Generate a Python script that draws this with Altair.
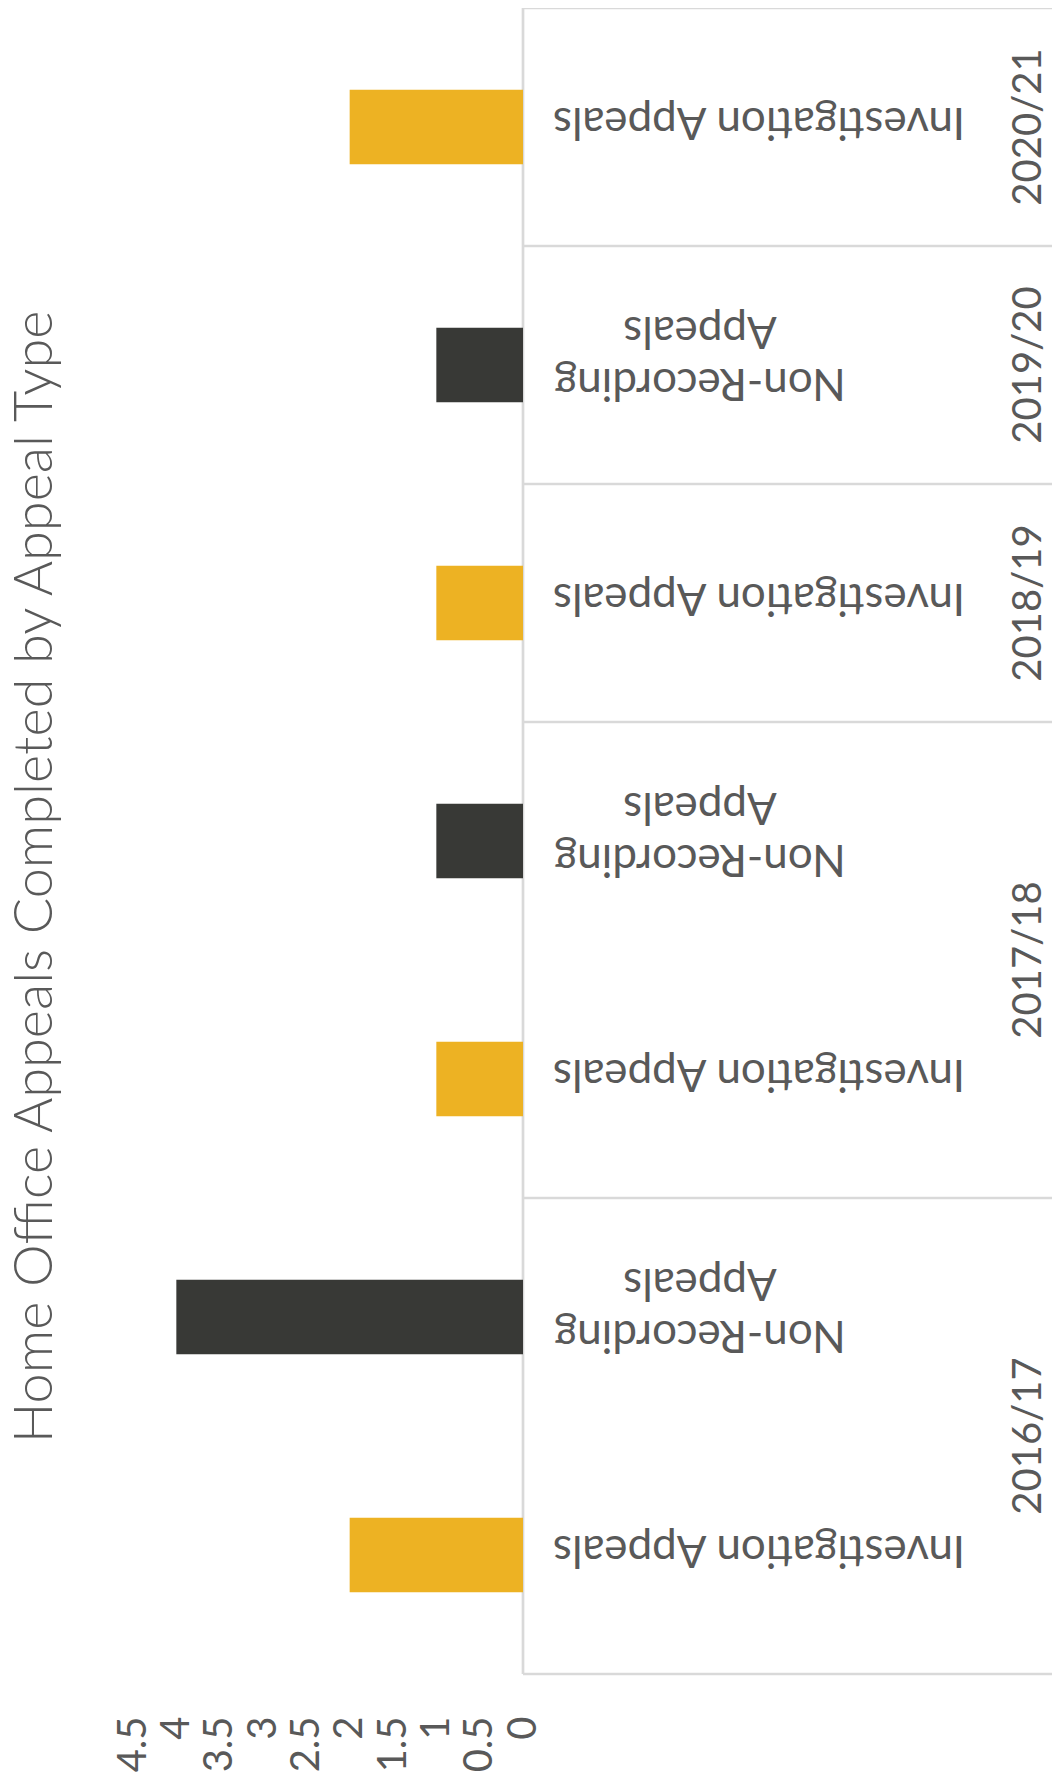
import altair as alt
import pandas as pd

# ---- data (bottom to top as read in the picture) ----
years = ["2016/17", "2016/17", "2017/18", "2017/18", "2018/19", "2019/20", "2020/21"]
types = ["Investigation Appeals", "Non-Recording Appeals",
         "Investigation Appeals", "Non-Recording Appeals",
         "Investigation Appeals", "Non-Recording Appeals",
         "Investigation Appeals"]
values = [2, 4, 1, 1, 1, 1, 2]
value_ticks = [0, 0.5, 1, 1.5, 2, 2.5, 3, 3.5, 4, 4.5]
title_text = "Home Office Appeals Completed by Appeal Type"
type_names = ["Investigation Appeals", "Non-Recording Appeals"]
type_colors = ["#EDB223", "#383936"]
type_labels = ["Investigation Appeals", "Non-Recording\nAppeals"]

TEXT = "#595959"
LINE = "#D9D9D9"
FONT = "Lato"

df = pd.DataFrame({"year": years, "type": types, "value": values})
df["cat"] = df["year"] + " | " + df["type"]
df["label"] = df["type"].map(dict(zip(type_names, type_labels)))
cat_order = list(df["cat"][::-1])  # top to bottom

# group boundaries
tops = df.groupby("year", sort=False)["cat"].last().tolist()
bottom = [df["cat"].iloc[0]]
yr_single, yr_double = [], []
for y, g in df.groupby("year", sort=False):
    if len(g) == 1:
        yr_single.append({"year": y, "cat": g["cat"].iloc[0]})
    else:
        yr_double.append({"year": y, "cat": g["cat"].iloc[0]})

W, H = 1044, 1666
x_scale = alt.Scale(domain=[0, 4.5], range=[515, 125])
y_scale = alt.Scale(domain=cat_order, paddingInner=0, paddingOuter=0)

base = alt.Chart(df)

bars = base.mark_bar(height=alt.RelativeBandSize(0.314)).encode(
    x=alt.X("value:Q", scale=x_scale,
            axis=alt.Axis(values=value_ticks, format="~g", labelAngle=270,
                          labelAlign="right", labelBaseline="middle",
                          labelFontSize=40, labelColor=TEXT, labelFont=FONT,
                          labelPadding=42, ticks=False, domain=False,
                          grid=False, title=None)),
    y=alt.Y("cat:N", scale=y_scale, axis=None),
    color=alt.Color("type:N", scale=alt.Scale(domain=type_names, range=type_colors),
                    legend=None),
)

rule_tops = alt.Chart(pd.DataFrame({"cat": tops})).mark_rule(
    color=LINE, strokeWidth=2.7).encode(
    y=alt.Y("cat:N", bandPosition=0, scale=y_scale, axis=None),
    x=alt.datum(0), x2=alt.value(W))

rule_bottom = alt.Chart(pd.DataFrame({"cat": bottom})).mark_rule(
    color=LINE, strokeWidth=2.7).encode(
    y=alt.Y("cat:N", bandPosition=1, scale=y_scale, axis=None),
    x=alt.datum(0), x2=alt.value(W))

rule_vert = alt.Chart(pd.DataFrame({"a": [0]})).mark_rule(
    color=LINE, strokeWidth=2.7).encode(x=alt.datum(0))

inv_labels = base.transform_filter(alt.datum.type == type_names[0]).mark_text(
    angle=180, fontSize=44, font=FONT, color=TEXT, align="center",
    baseline="middle", dy=6).encode(
    x=alt.value(751), y=alt.Y("cat:N", scale=y_scale, axis=None), text="label:N")

nr_labels = base.transform_filter(alt.datum.type == type_names[1]).mark_text(
    angle=180, fontSize=44, font=FONT, color=TEXT, align="center",
    baseline="middle", lineBreak="\n", lineHeight=52, dy=-17).encode(
    x=alt.value(692), y=alt.Y("cat:N", scale=y_scale, axis=None), text="label:N")

yr1 = alt.Chart(pd.DataFrame(yr_single)).mark_text(
    angle=270, fontSize=40, font=FONT, color=TEXT, align="center",
    baseline="middle").encode(
    x=alt.value(1021), y=alt.Y("cat:N", bandPosition=0.5, scale=y_scale, axis=None),
    text="year:N")

yr2 = alt.Chart(pd.DataFrame(yr_double)).mark_text(
    angle=270, fontSize=40, font=FONT, color=TEXT, align="center",
    baseline="middle").encode(
    x=alt.value(1021), y=alt.Y("cat:N", bandPosition=0, scale=y_scale, axis=None),
    text="year:N")

title = alt.Chart(pd.DataFrame({"a": [0]})).mark_text(
    angle=270, fontSize=54, font=FONT, fontWeight=300, color=TEXT,
    align="center", baseline="middle").encode(
    x=alt.value(28), y=alt.value(869), text=alt.datum(title_text))

chart = alt.layer(
    rule_tops, rule_bottom, rule_vert, bars, inv_labels, nr_labels, yr1, yr2, title
).properties(
    width=W, height=H,
    autosize=alt.AutoSizeParams(type="none"),
    padding={"left": 0, "top": 0, "right": 0, "bottom": 100},
).configure_view(stroke=None)

chart.save("out.html", embed_options={"renderer": "svg", "actions": False})
